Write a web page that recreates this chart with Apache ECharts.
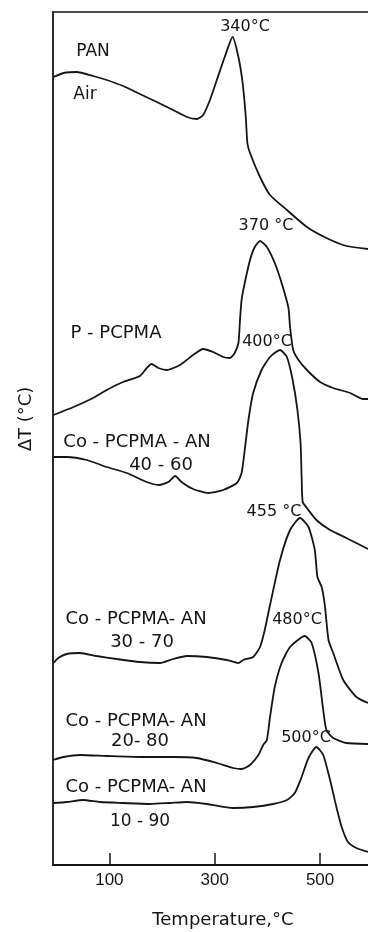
<!DOCTYPE html>
<html>
<head>
<meta charset="utf-8">
<script src="https://cdn.jsdelivr.net/npm/echarts@6/dist/echarts.min.js"></script>
<style>
html, body { margin: 0; padding: 0; background: #fff; }
#graphContainer { width: 368px; height: 932px; }
</style>
</head>
<body>
<div id="graphContainer"></div>
<script>
// DTA traces, [temperature °C, ΔT offset (arbitrary units)]
var panAir = [[-6,788],[13,792],[38,793],[69,789],[95,785],[126,779],[158,771],[190,763],[221,755],[247,748],[266,746],[278,750],[291,765],[304,785],[319,808],[334,828],[345,808],[353,782],[359,748],[362,722],[367,712],[386,688],[405,670],[437,655],[475,638],[512,627],[550,619],[591,616]];
var pPcpma = [[-6,450],[32,458],[69,467],[95,475],[126,483],[158,489],[171,497],[180,501],[193,497],[209,495],[234,500],[259,510],[278,516],[297,513],[316,508],[329,507],[338,512],[345,522],[348,545],[351,565],[357,582],[367,605],[376,618],[386,624],[399,618],[414,602],[427,582],[440,557],[443,538],[449,515],[459,505],[475,495],[500,483],[525,477],[557,472],[582,466],[591,466]];
var co4060 = [[-6,408],[19,408],[57,405],[95,398],[133,392],[171,383],[194,380],[212,383],[225,389],[237,383],[259,376],[288,372],[316,375],[342,382],[351,392],[357,415],[364,445],[373,472],[389,495],[405,508],[424,515],[437,508],[448,485],[457,455],[463,422],[465,388],[467,363],[475,357],[493,345],[519,335],[550,327],[591,316]];
var co3070 = [[-6,202],[3,207],[19,211],[44,212],[76,209],[114,206],[158,203],[196,202],[221,206],[247,209],[285,208],[323,205],[345,202],[354,205],[373,208],[386,218],[395,235],[405,260],[424,305],[443,335],[462,347],[478,338],[490,315],[495,288],[503,278],[509,260],[516,225],[525,212],[544,185],[569,168],[591,162]];
var co2080 = [[-7,105],[13,108],[44,110],[95,109],[158,108],[221,108],[266,107],[304,102],[335,97],[351,96],[367,100],[383,110],[392,120],[399,125],[405,148],[414,178],[427,202],[443,218],[471,229],[484,222],[497,192],[506,155],[512,135],[525,127],[550,122],[591,121]];
var co1090 = [[-7,62],[19,63],[50,65],[82,63],[126,62],[177,61],[215,62],[247,63],[285,61],[335,57],[373,58],[411,61],[437,65],[452,72],[465,88],[478,107],[493,118],[506,110],[519,85],[531,58],[541,38],[553,23],[569,17],[591,13]];

var seriesNames = ['PAN Air', 'P-PCPMA', 'Co-PCPMA-AN 40-60', 'Co-PCPMA-AN 30-70', 'Co-PCPMA-AN 20-80', 'Co-PCPMA-AN 10-90'];
var seriesValues = [panAir, pPcpma, co4060, co3070, co2080, co1090];
var tempTicks = [100, 300, 500];

var FONT = 'DejaVu Sans';
var INK = '#151515';

var seriesData = [];
for (var i = 0; i < seriesValues.length; i++) {
	seriesData.push({
		name: seriesNames[i],
		type: 'line',
		data: seriesValues[i],
		symbol: 'none',
		smooth: 0.2,
		lineStyle: { color: INK, width: 1.8 },
		silent: true
	});
}

function txt(text, x, y, size, rot) {
	return {
		type: 'text',
		x: x, y: y,
		rotation: rot || 0,
		style: {
			text: text,
			fill: INK,
			font: (size || 16) + 'px "' + FONT + '"',
			align: 'center',
			verticalAlign: 'middle'
		}
	};
}

var dom = document.getElementById('graphContainer');
var myEChart = echarts.init(dom, null, { renderer: 'canvas' });

var option = {
	animation: false,
	backgroundColor: '#fff',
	grid: { left: 53, right: 0, top: 12, bottom: 67 },
	xAxis: [
		{
			type: 'value',
			min: -7,
			max: 591,
			position: 'bottom',
			axisLine: { show: true, onZero: false, lineStyle: { color: INK, width: 2 } },
			axisTick: { show: true, inside: true, length: 12, customValues: tempTicks, lineStyle: { color: INK, width: 1.5 } },
			axisLabel: { customValues: tempTicks, margin: 7, color: INK, fontFamily: 'Liberation Sans', fontSize: 17 },
			splitLine: { show: false }
		},
		{
			type: 'value',
			min: -7,
			max: 591,
			position: 'top',
			axisLine: { show: true, onZero: false, lineStyle: { color: INK, width: 1.5 } },
			axisTick: { show: false },
			axisLabel: { show: false },
			splitLine: { show: false }
		}
	],
	yAxis: {
		type: 'value',
		min: 0,
		max: 853,
		position: 'left',
		axisLine: { show: true, onZero: false, lineStyle: { color: INK, width: 1.8 } },
		axisTick: { show: false },
		axisLabel: { show: false },
		splitLine: { show: false }
	},
	graphic: [
		txt('ΔT (°C)', 26, 419, 18, Math.PI / 2),
		txt('Temperature,°C', 223, 920, 18),
		txt('PAN', 93, 52, 17),
		txt('Air', 85, 95, 17),
		txt('340°C', 245, 27),
		txt('370 °C', 266, 226),
		txt('P - PCPMA', 116, 333, 18),
		txt('400°C', 267, 342),
		txt('Co - PCPMA - AN', 137, 442, 18),
		txt('40 - 60', 161, 465, 18),
		txt('455 °C', 274, 512),
		txt('Co - PCPMA- AN', 136, 619, 18),
		txt('30 - 70', 142, 642, 18),
		txt('480°C', 297, 620),
		txt('Co - PCPMA- AN', 136, 721, 18),
		txt('20- 80', 140, 741, 18),
		txt('500°C', 306, 738),
		txt('Co - PCPMA- AN', 136, 787, 18),
		txt('10 - 90', 140, 822, 17)
	],
	series: seriesData
};

myEChart.setOption(option);
window.addEventListener('resize', myEChart.resize);
</script>
</body>
</html>
